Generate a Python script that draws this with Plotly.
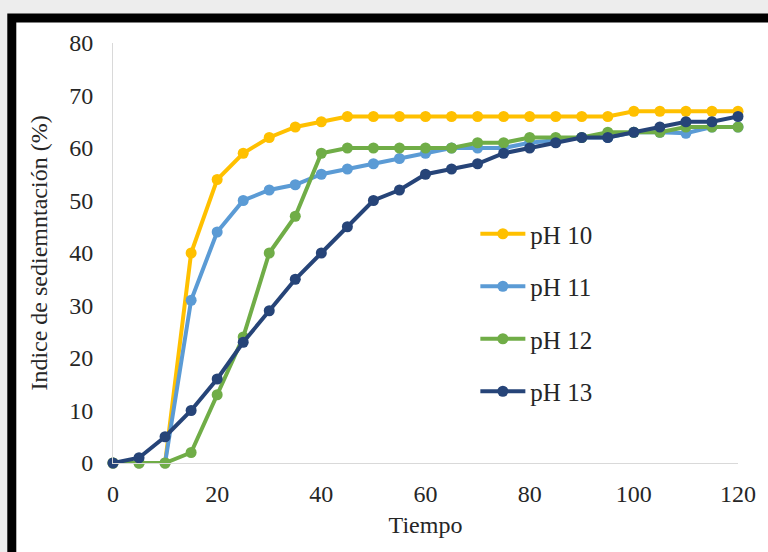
import plotly.graph_objects as go

# Sedimentation index (%) vs. time for four pH levels
tiempo = [0, 5, 10, 15, 20, 25, 30, 35, 40, 45, 50, 55, 60,
          65, 70, 75, 80, 85, 90, 95, 100, 105, 110, 115, 120]

ph10 = [0, 0, 0, 40, 54, 59, 62, 64, 65, 66, 66, 66, 66,
        66, 66, 66, 66, 66, 66, 66, 67, 67, 67, 67, 67]
ph11 = [0, 0, 0, 31, 44, 50, 52, 53, 55, 56, 57, 58, 59,
        60, 60, 60, 61, 61.5, 62, 62, 63, 63, 62.8, 64, 64]
ph12 = [0, 0, 0, 2, 13, 24, 40, 47, 59, 60, 60, 60, 60,
        60, 61, 61, 62, 62, 62, 63, 63, 63, 64, 64, 64]
ph13 = [0, 1, 5, 10, 16, 23, 29, 35, 40, 45, 50, 52, 55,
        56, 57, 59, 60, 61, 62, 62, 63, 64, 65, 65, 66]

series = [
    ("pH 10", ph10, "#FFC000"),
    ("pH 11", ph11, "#5B9BD5"),
    ("pH 12", ph12, "#70AD47"),
    ("pH 13", ph13, "#264478"),
]

FONT = "Liberation Serif"
TXT = "#262626"

fig = go.Figure()
for name, vals, color in series:
    fig.add_trace(go.Scatter(
        x=tiempo, y=vals, name=name, mode="lines+markers",
        legendgroup=name,
        line=dict(color=color, width=4),
        marker=dict(color=color, size=11),
        cliponaxis=False,
    ))

W, H = 768, 552
L, R, T, B = 113, 22, 43, 89
pw, ph = W - L - R, H - T - B


def px_x(p):
    return (p - L) / pw


def px_y(p):
    return (H - B - p) / ph


# white panel with a heavy black frame on its top and left sides
fig.add_shape(
    type="rect", xref="paper", yref="paper", layer="below",
    x0=px_x(10.5), x1=px_x(W + 40), y0=px_y(H + 40), y1=px_y(18),
    fillcolor="white", line=dict(color="black", width=9),
)

fig.update_layout(
    width=W, height=H,
    margin=dict(l=L, r=R, t=T, b=B),
    paper_bgcolor="#ededed",
    plot_bgcolor="rgba(0,0,0,0)",
    font=dict(family=FONT, color=TXT, size=24),
    showlegend=True,
    legend=dict(
        x=px_x(480), y=px_y(211), xanchor="left", yanchor="top",
        bgcolor="rgba(0,0,0,0)",
        font=dict(family=FONT, size=25, color=TXT),
        tracegroupgap=17, itemwidth=45,
    ),
    xaxis=dict(
        range=[0, 120], dtick=20, tick0=0,
        showline=True, linecolor="#d9d9d9", linewidth=1,
        showgrid=False, zeroline=False, ticks="",
        ticklabelstandoff=9,
        tickfont=dict(family=FONT, size=24, color=TXT),
        title=dict(text="Tiempo", font=dict(family=FONT, size=24, color=TXT), standoff=10),
    ),
    yaxis=dict(
        range=[0, 80], dtick=10, tick0=0,
        showline=True, linecolor="#d9d9d9", linewidth=1,
        showgrid=False, zeroline=False, ticks="",
        ticklabelstandoff=14,
        tickfont=dict(family=FONT, size=24, color=TXT),
        title=dict(text="Indice de sediemntación (%)",
                   font=dict(family=FONT, size=24, color=TXT), standoff=14),
    ),
)

fig.write_html("out.html")
